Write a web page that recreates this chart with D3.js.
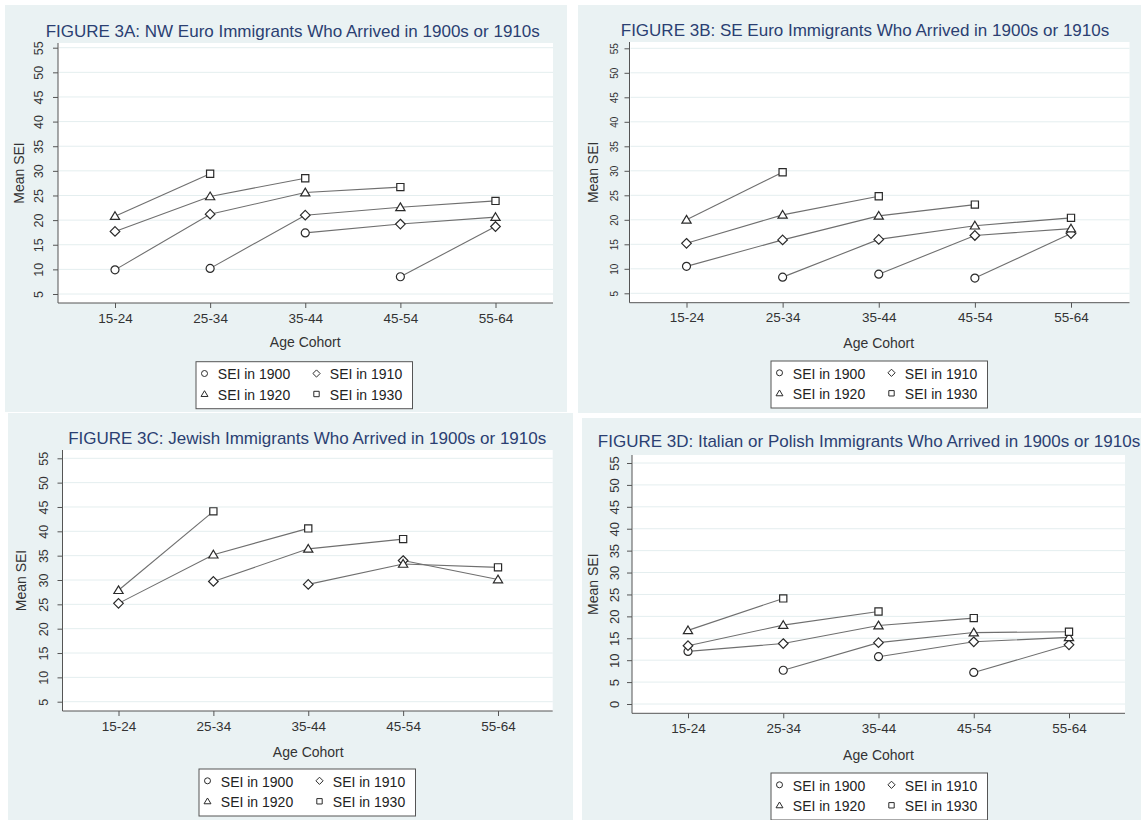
<html><head>
<meta charset="utf-8">
<title>FIGURE 3: Mean SEI by Age Cohort</title>
<script type="text/javascript" src="https://d3js.org/d3.v7.min.js"></script>
<style>
body { margin: 0; background: #fff; }
text { font-family: "Liberation Sans", Arial, sans-serif; }
</style>
</head>
<body>
<div id="chart"></div>
<script>

// categories, series and ticks
var ageGroups = ["15-24", "25-34", "35-44", "45-54", "55-64"];
var seriesNames = ["SEI in 1900", "SEI in 1910", "SEI in 1920", "SEI in 1930"];
var yTicks5 = [5, 10, 15, 20, 25, 30, 35, 40, 45, 50, 55];
var yTicks0 = [0, 5, 10, 15, 20, 25, 30, 35, 40, 45, 50, 55];

var titles = [
  "FIGURE 3A: NW Euro Immigrants Who Arrived in 1900s or 1910s",
  "FIGURE 3B: SE Euro Immigrants Who Arrived in 1900s or 1910s",
  "FIGURE 3C: Jewish Immigrants Who Arrived in 1900s or 1910s",
  "FIGURE 3D: Italian or Polish Immigrants Who Arrived in 1900s or 1910s"
];

// 3A NW Euro - mean SEI per age group
var nw1900 = [9.9, 10.2, 17.4, 8.5, null];
var nw1910 = [17.7, 21.2, 21.0, 19.2, 18.7];
var nw1920 = [20.8, 24.8, 25.6, 22.6, 20.6];
var nw1930 = [null, 29.4, 28.5, 26.7, 23.9];

// 3B SE Euro
var se1900 = [10.5, 8.3, 8.9, 8.1, null];
var se1910 = [15.2, 15.9, 16.0, 16.8, 17.2];
var se1920 = [20.0, 21.0, 20.8, 18.8, 18.2];
var se1930 = [null, 29.7, 24.8, 23.1, 20.4];

// 3C Jewish
var jw1900 = [null, null, null, null, null];
var jw1910 = [25.2, 29.7, 29.1, 34.0, null];
var jw1920 = [27.9, 35.2, 36.4, 33.3, 30.1];
var jw1930 = [null, 44.1, 40.6, 38.4, 32.6];

// 3D Italian or Polish
var ip1900 = [12.0, 7.7, 10.8, 7.2, null];
var ip1910 = [13.3, 13.8, 14.0, 14.2, 13.5];
var ip1920 = [16.8, 18.0, 17.9, 16.3, 15.2];
var ip1930 = [null, 24.1, 21.1, 19.6, 16.5];

var panelData = [
  [nw1900, nw1910, nw1920, nw1930],
  [se1900, se1910, se1920, se1930],
  [jw1900, jw1910, jw1920, jw1930],
  [ip1900, ip1910, ip1920, ip1930]
];
var panelTicks = [yTicks5, yTicks5, yTicks5, yTicks0];

// where each panel sits on the page
var layout = [
  {bx: 5, by: 5, bw: 562, bh: 407, left: 58, right: 553, top: 43, bottom: 303,
   p0: 294, p1: 47.7, c0: 115, c4: 495.5, titleX: 292.7, titleY: 37.3,
   tickFont: 12.5, tickBase: 14.7, meanX: 23.5, xlabY: 323.3, axTitleY: 346.7, lgX: 196, lgY: 361.7},
  {bx: 578, by: 5, bw: 563, bh: 408, left: 629.5, right: 1129.5, top: 42, bottom: 302.7,
   p0: 293.3, p1: 48.3, c0: 686.5, c4: 1071, titleX: 865, titleY: 36,
   tickFont: 10, tickBase: 11.5, meanX: 597.5, xlabY: 321.7, axTitleY: 347.5, lgX: 771, lgY: 361},
  {bx: 8, by: 413, bw: 565, bh: 407, left: 62.5, right: 552.7, top: 450, bottom: 711,
   p0: 701.7, p1: 458.3, c0: 118.5, c4: 498, titleX: 307.2, titleY: 444,
   tickFont: 12.5, tickBase: 14.5, meanX: 26, xlabY: 730.7, axTitleY: 756.5, lgX: 199, lgY: 769},
  {bx: 582, by: 418, bw: 559, bh: 402, left: 632, right: 1125, top: 455, bottom: 713.3,
   p0: 704, p1: 463, c0: 688, c4: 1069, titleX: 869, titleY: 447.3,
   tickFont: 13, tickBase: 13, meanX: 598.3, xlabY: 733.3, axTitleY: 759.5, lgX: 771, lgY: 773}
];

var bgColor = "#eaf2f3";
var titleColor = "#2b3f72";
var markerTypes = ["circle", "diamond", "triangle", "square"];

function markerPath(type, s) {
  // s = nominal marker width
  var h = s / 2;
  if (type == "circle") return d3.symbol(d3.symbolCircle, Math.PI * h * h)();
  if (type == "square") return "M" + (-h * 0.9) + "," + (-h * 0.9) + "h" + (s * 0.9) + "v" + (s * 0.9) + "h" + (-s * 0.9) + "Z";
  if (type == "diamond") { var d = h * 1.2; return "M0," + (-d) + "L" + d + ",0L0," + d + "L" + (-d) + ",0Z"; }
  if (type == "triangle") { var t = h * 1.1; return "M0," + (-t) + "L" + (t * 1.05) + "," + (t * 0.75) + "L" + (-t * 1.05) + "," + (t * 0.75) + "Z"; }
}

var svg = d3.select("#chart")
  .append("svg")
    .attr("width", 1141)
    .attr("height", 820);

layout.forEach(function(L, pi) {

  var series = panelData[pi];
  var ticks = panelTicks[pi];
  var g = svg.append("g");

  // panel background
  g.append("rect")
    .attr("x", L.bx).attr("y", L.by)
    .attr("width", L.bw).attr("height", L.bh)
    .attr("fill", bgColor);

  // white plot region
  g.append("rect")
    .attr("x", L.left).attr("y", L.top)
    .attr("width", L.right - L.left).attr("height", L.bottom - L.top)
    .attr("fill", "#fff");

  var y = d3.scaleLinear()
    .domain([ticks[0], 55])
    .range([L.p0, L.p1]);

  var x = d3.scaleLinear()
    .domain([0, ageGroups.length - 1])
    .range([L.c0, L.c4]);

  // gridlines
  g.selectAll(".grid")
    .data(ticks)
    .enter().append("line")
      .attr("x1", L.left + 1).attr("x2", L.right)
      .attr("y1", function(d) { return y(d); })
      .attr("y2", function(d) { return y(d); })
      .attr("stroke", "#e4eeef")
      .attr("stroke-width", 1);

  // y axis
  var yAxis = g.append("g")
    .attr("transform", "translate(" + L.left + ",0)")
    .call(d3.axisLeft(y).tickValues(ticks).tickSize(5).tickSizeOuter(0));
  yAxis.select(".domain").remove();
  yAxis.selectAll(".tick line").attr("stroke", "#555");
  yAxis.selectAll(".tick text")
    .attr("x", null).attr("dy", null)
    .attr("text-anchor", "middle")
    .attr("transform", "translate(" + (-L.tickBase) + ",0) rotate(-90)")
    .style("font-size", L.tickFont + "px")
    .attr("fill", "#333");
  g.append("line")
    .attr("x1", L.left).attr("x2", L.left)
    .attr("y1", L.top).attr("y2", L.bottom)
    .attr("stroke", "#555");

  // x axis
  var xAxis = g.append("g")
    .attr("transform", "translate(0," + L.bottom + ")")
    .call(d3.axisBottom(x)
      .tickValues(d3.range(ageGroups.length))
      .tickFormat(function(i) { return ageGroups[i]; })
      .tickSize(5).tickSizeOuter(0));
  xAxis.select(".domain").remove();
  xAxis.selectAll(".tick line").attr("stroke", "#555");
  xAxis.selectAll(".tick text")
    .attr("y", L.xlabY - L.bottom).attr("dy", null)
    .style("font-size", "13.5px")
    .attr("fill", "#333");
  g.append("line")
    .attr("x1", L.left).attr("x2", L.right)
    .attr("y1", L.bottom).attr("y2", L.bottom)
    .attr("stroke", "#555");

  // titles
  g.append("text")
    .attr("x", L.titleX).attr("y", L.titleY)
    .attr("text-anchor", "middle")
    .style("font-size", "17px")
    .attr("fill", titleColor)
    .text(titles[pi]);

  g.append("text")
    .attr("x", x(2)).attr("y", L.axTitleY)
    .attr("text-anchor", "middle")
    .style("font-size", "14px")
    .attr("fill", "#333")
    .text("Age Cohort");

  g.append("text")
    .attr("transform", "translate(" + L.meanX + "," + ((L.top + L.bottom) / 2) + ") rotate(-90)")
    .attr("text-anchor", "middle")
    .style("font-size", "14px")
    .attr("fill", "#333")
    .text("Mean SEI");

  // cohort lines: age group j in census k follows to j+1 in census k+1
  var line = d3.line()
    .x(function(d) { return x(d.j); })
    .y(function(d) { return y(d.v); });

  for (var c = -3; c < ageGroups.length; c++) {
    var pts = [];
    for (var k = 0; k < series.length; k++) {
      var j = c + k;
      if (j < 0 || j >= ageGroups.length) continue;
      if (series[k][j] == null) continue;
      pts.push({j: j, v: series[k][j]});
    }
    if (pts.length < 2) continue;
    g.append("path")
      .datum(pts)
      .attr("fill", "none")
      .attr("stroke", "#6f6f6f")
      .attr("stroke-width", 1.1)
      .attr("d", line);
  }

  // markers
  series.forEach(function(vals, k) {
    g.selectAll(".m" + k)
      .data(vals.map(function(v, j) { return {j: j, v: v}; }).filter(function(d) { return d.v != null; }))
      .enter().append("path")
        .attr("transform", function(d) { return "translate(" + x(d.j) + "," + y(d.v) + ")"; })
        .attr("d", markerPath(markerTypes[k], 8))
        .attr("fill", "#fff")
        .attr("stroke", "#2a2a2a")
        .attr("stroke-width", 1.2);
  });

  // legend
  var lg = g.append("g").attr("transform", "translate(" + L.lgX + "," + L.lgY + ")");
  lg.append("rect")
    .attr("x", 0).attr("y", 0)
    .attr("width", 216.5).attr("height", 47)
    .attr("fill", "#fff")
    .attr("stroke", "#555")
    .attr("stroke-width", 1);
  seriesNames.forEach(function(name, k) {
    var col = k % 2, row = Math.floor(k / 2);
    var sx = 8.5 + col * 112;
    var base = 17.8 + row * 20.5;
    lg.append("path")
      .attr("transform", "translate(" + sx + "," + (base - 6) + ")")
      .attr("d", markerPath(markerTypes[k], 6))
      .attr("fill", "#fff")
      .attr("stroke", "#2a2a2a")
      .attr("stroke-width", 1);
    lg.append("text")
      .attr("x", sx + 13.3).attr("y", base)
      .style("font-size", "14px")
      .attr("fill", "#222")
      .text(name);
  });
});

</script>
</body></html>
